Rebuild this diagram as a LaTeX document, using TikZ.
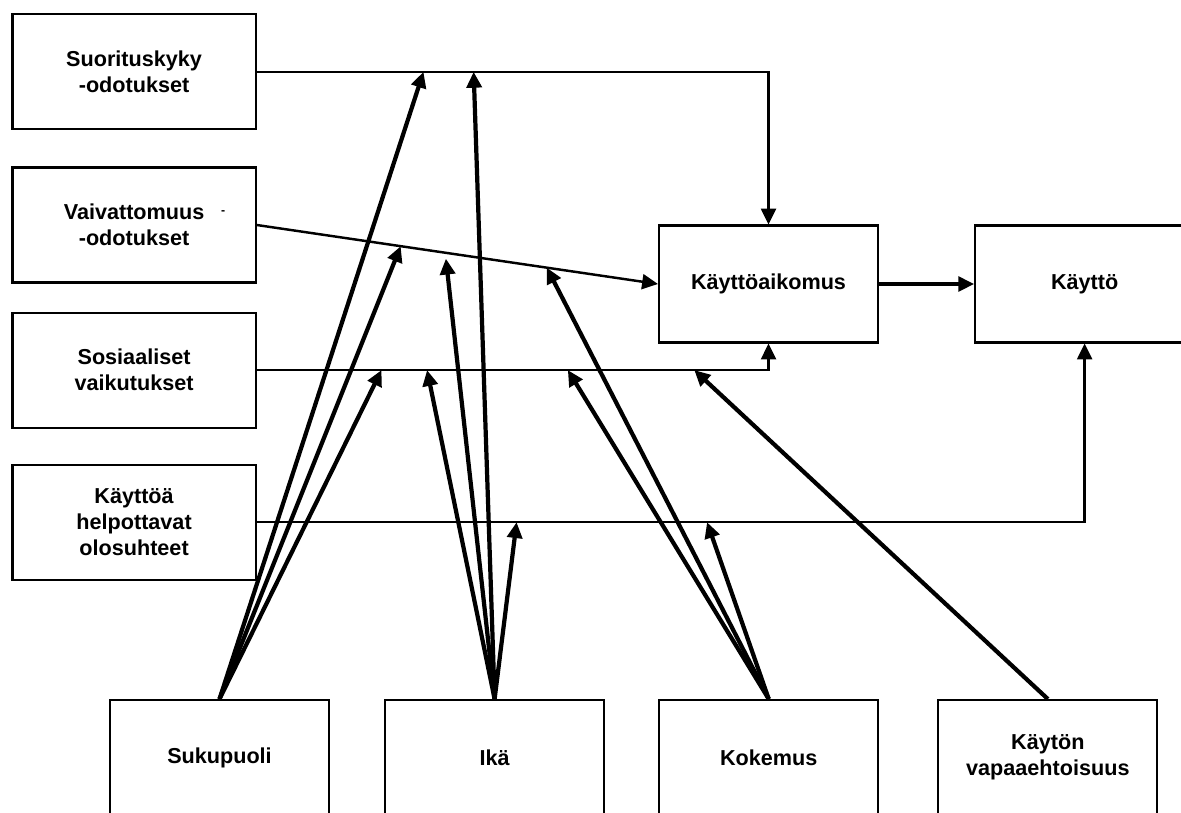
\documentclass[tikz,border=0pt]{standalone}
\usepackage{fontspec}
\setmainfont{Liberation Sans}
\usepackage{tikz}
\usetikzlibrary{
	arrows.meta,
	positioning
}

\begin{document}
\begin{tikzpicture}[
				box/.style={
					rectangle, draw, line width=1.2pt,
					minimum width=4.38cm, minimum height=2.34cm,
					align=center, font=\bfseries\fontsize{12.3}{14.7}\selectfont
				},
				leftbox/.style={
					box, minimum width=4.86cm, minimum height=2.3cm
				},
				lowbox/.style={
					box, minimum height=2.3cm
				},
				link/.style={line width=1.4pt, -{Triangle[length=9pt,width=8.5pt]}},
				moder/.style={line width=2.4pt, -{Triangle[length=9pt,width=8.5pt]}}
				]
				\useasboundingbox (0,0) rectangle (23.62,-16.24);
				
				% Suorituskykyodotukset
				\node[leftbox, anchor=north west] (perf) at (0.23,-0.266) {Suorituskyky\\-odotukset};
				
				% Vaivattomuusodotukset
				\node[leftbox, below=0.72cm of perf] (ease) {Vaivattomuus\\-odotukset};
				\node[font=\bfseries\fontsize{7}{8}\selectfont, inner sep=0pt] (dash) at ([xshift=1.78cm,yshift=0.25cm]ease.center) {-};
				
				% Sosiaaliset vaikutukset
				\node[leftbox, below=0.56cm of ease] (social) {Sosiaaliset\\vaikutukset};
				
				% Helpottavat olosuhteet
				\node[leftbox, below=0.7cm of social] (facil) {Käyttöä\\helpottavat\\olosuhteet};
				
				% Aikomus ja kaytto
				\node[box] (intent) at (15.37,-5.68) {Käyttöaikomus};
				\node[box, right=1.9cm of intent] (use) {Käyttö};
				
				% moderaattorit
				\node[lowbox, anchor=north] (gender) at (4.39,-13.98) {Sukupuoli};
				\node[lowbox, right=1.08cm of gender] (age) {Ikä};
				\node[lowbox, right=1.06cm of age] (exper) {Kokemus};
				\node[lowbox, right=1.16cm of exper] (volun) {Käytön\\vapaaehtoisuus};
				
				% paayhteydet
				\draw[link] (perf.east) -| (intent.north)
					coordinate[pos=0.163] (pg) coordinate[pos=0.212] (pa);
				\draw[link] (ease.east) -- (intent.west)
					coordinate[pos=0.359] (eg) coordinate[pos=0.47] (ea) coordinate[pos=0.723] (ex);
				\draw[link] (social.east) -| (intent.south)
					coordinate[pos=0.122] (sg) coordinate[pos=0.1665] (sa)
					coordinate[pos=0.304] (sx) coordinate[pos=0.4275] (sv);
				\draw[link] (facil.east) -| (use.south)
					coordinate[pos=0.157] (fa) coordinate[pos=0.272] (fx);
				\draw[link, line width=1.8pt] (intent) -- (use);
				
				% moderoivat nuolet
				\draw[moder] (gender.north) -- (pg);
				\draw[moder] (gender.north) -- (eg);
				\draw[moder] (gender.north) -- (sg);
				\draw[moder] (age.north) -- (pa);
				\draw[moder, shorten >=0.12cm] (age.north) -- (ea);
				\draw[moder] (age.north) -- (sa);
				\draw[moder] (age.north) -- (fa);
				\draw[moder] (exper.north) -- (ex);
				\draw[moder] (exper.north) -- (sx);
				\draw[moder] (exper.north) -- (fx);
				\draw[moder] (volun.north) -- (sv);
			\end{tikzpicture}
\end{document}
